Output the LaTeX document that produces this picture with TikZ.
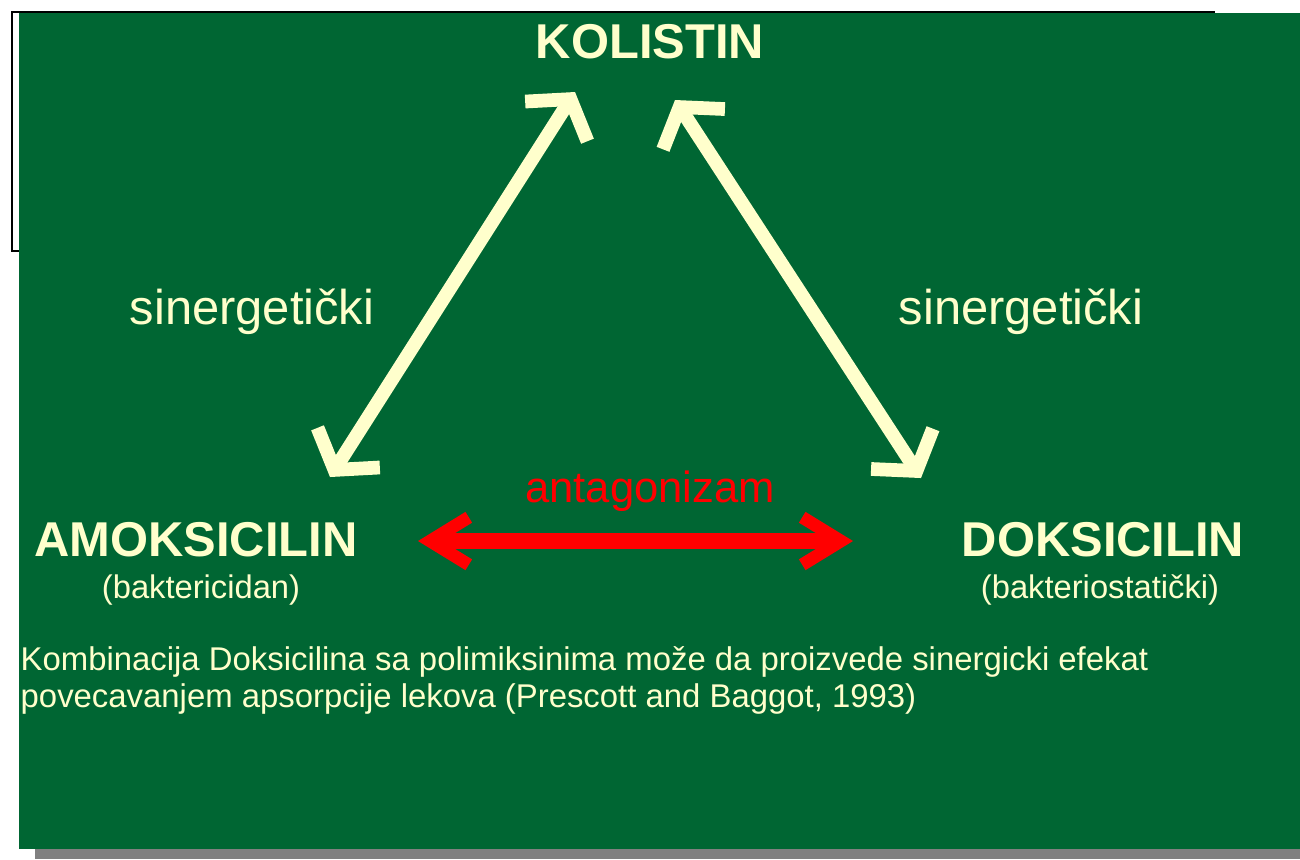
\documentclass[tikz,border=0pt]{standalone}
\usepackage{fontspec}
\setmainfont{Liberation Sans}
\usetikzlibrary{arrows.meta}
\definecolor{slidegreen}{RGB}{0,102,51}
\definecolor{chalk}{RGB}{255,255,204}
\definecolor{shadowgray}{RGB}{128,128,128}
\tikzset{
  synergy/.style={draw=chalk,line width=3.9pt,
    {Straight Barb[length=7.5pt,width=21pt,sharp]}-{Straight Barb[length=7.5pt,width=21pt,sharp]}},
  antagonism/.style={draw=red,line width=4.5pt,
    {Straight Barb[length=11pt,width=13.5pt,line width=3.6pt,sharp]}-{Straight Barb[length=11pt,width=13.5pt,line width=3.6pt,sharp]}},
  drug/.style={text=chalk,inner sep=0pt,anchor=base,font=\fontsize{13.9}{16}\selectfont\bfseries},
  effect/.style={text=chalk,inner sep=0pt,anchor=base,font=\fontsize{9.3}{11}\selectfont},
  lab/.style={text=chalk,inner sep=0pt,anchor=base,font=\fontsize{13.9}{16}\selectfont},
  note/.style={text=chalk,inner sep=0pt,anchor=west,align=left,font=\fontsize{9.35}{10.5}\selectfont},
}
\begin{document}
\begin{tikzpicture}[x=0.01cm,y=-0.01cm]
  \path[use as bounding box] (0,0) rectangle (1300,859);
  % slide frame, shadow and background
  \draw[black,line width=0.6pt,fill=white] (12,12) rectangle (1214,251);
  \fill[shadowgray] (35,849) rectangle (1300,859);
  \fill[slidegreen] (19,13) rectangle (1300,849);

  \node[drug] (kolistin) at (650,58) {KOLISTIN};
  \node[drug] (amoks) at (196,556) {AMOKSICILIN};
  \node[effect] (baktcid) at (201,598) {(baktericidan)};
  \node[drug] (doks) at (1103,556) {DOKSICILIN};
  \node[effect] (baktstat) at (1100,598) {(bakteriostatički)};

  \node[lab] (sinL) at (252,324) {sinergetički};
  \node[lab] (sinR) at (1021,324) {sinergetički};
  \node[lab,text=red,font=\fontsize{12.4}{14}\selectfont] (antag) at (650,502) {antagonizam};

  \coordinate (kolL) at (575,92);
  \coordinate (kolR) at (675,100);
  \coordinate (amoksT) at (330,477);
  \coordinate (doksT) at (921,478);
  \coordinate (amoksR) at (418,541);
  \coordinate (doksL) at (853,541);
  \draw[synergy] (amoksT)--(kolL);
  \draw[synergy] (kolR)--(doksT);
  \draw[antagonism] (amoksR)--(doksL);

  \node[note] (ref) at (20,680)
    {Kombinacija Doksicilina sa polimiksinima može da proizvede sinergicki efekat\\
     povecavanjem apsorpcije lekova (Prescott and Baggot, 1993)};
\end{tikzpicture}
\end{document}
